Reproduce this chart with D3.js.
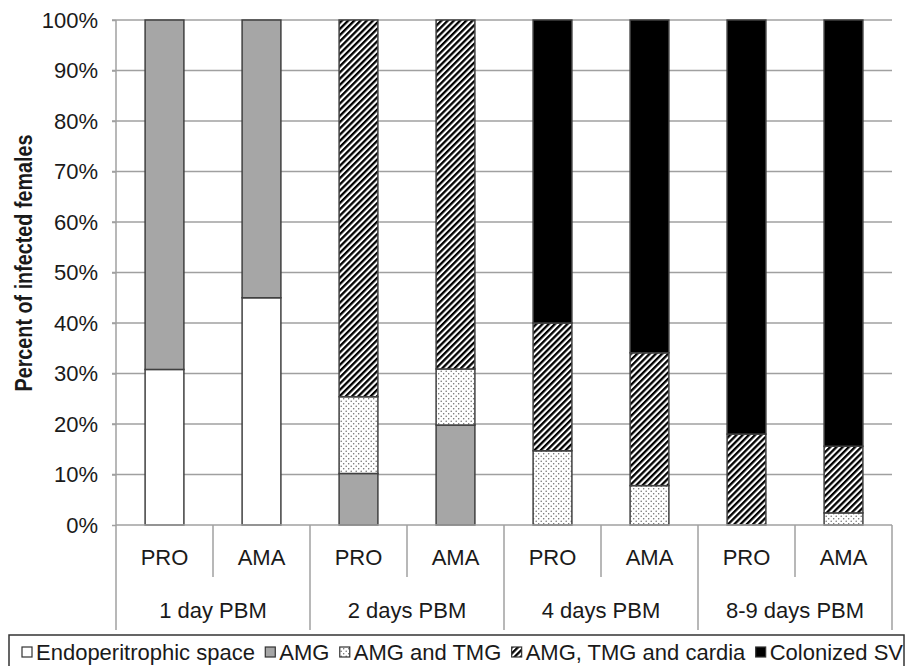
<!DOCTYPE html>
<html><head><meta charset="utf-8">
<script src="https://cdn.jsdelivr.net/npm/d3@7"></script>
<style>html,body{margin:0;padding:0;background:#fff;}svg{display:block;}</style>
</head><body>
<svg id="chart" width="907" height="666"></svg>
<script>
const groups = ["1 day PBM", "2 days PBM", "4 days PBM", "8-9 days PBM"];
const subgroups = ["PRO", "AMA"];
const seriesNames = ["Endoperitrophic space", "AMG", "AMG and TMG", "AMG, TMG and cardia", "Colonized SV"];
// values in percent, one per bar (group x subgroup order)
const endoperitrophic = [30.8, 45.0, 0, 0, 0, 0, 0, 0];
const amg             = [69.2, 55.0, 10.2, 19.8, 0, 0, 0, 0];
const amgTmg          = [0, 0, 15.2, 11.1, 14.7, 7.8, 0, 2.4];
const amgTmgCardia    = [0, 0, 74.6, 69.1, 25.3, 26.3, 18.0, 13.2];
const colonizedSV     = [0, 0, 0, 0, 60.0, 65.9, 82.0, 84.4];
const yTicks = [0, 10, 20, 30, 40, 50, 60, 70, 80, 90, 100];

(function () {
const seriesValues = [endoperitrophic, amg, amgTmg, amgTmgCardia, colonizedSV];
const bars = [];
groups.forEach((g, gi) => subgroups.forEach((s, si) => {
  const idx = gi * subgroups.length + si;
  const row = { id: idx, group: g, sub: s };
  seriesNames.forEach((n, k) => row[n] = seriesValues[k][idx]);
  bars.push(row);
}));

const svg = d3.select("#chart");
const FONT = "'Liberation Sans', Arial, sans-serif";
const FS = 22;
const mLeft = 116, mRight = 892, mTop = 20, mBottom = 525;

const defs = svg.append("defs");
const dots = defs.append("pattern").attr("id", "dots").attr("patternUnits", "userSpaceOnUse")
  .attr("width", 5).attr("height", 5);
dots.append("rect").attr("width", 5).attr("height", 5).attr("fill", "#fff");
dots.append("circle").attr("cx", 1.2).attr("cy", 1.2).attr("r", 0.75).attr("fill", "#6a6a6a");
dots.append("circle").attr("cx", 3.7).attr("cy", 3.7).attr("r", 0.75).attr("fill", "#6a6a6a");
const hatch = defs.append("pattern").attr("id", "hatch").attr("patternUnits", "userSpaceOnUse")
  .attr("width", 4.4).attr("height", 4.4).attr("patternTransform", "rotate(45)");
hatch.append("rect").attr("width", 4.4).attr("height", 4.4).attr("fill", "#fff");
hatch.append("rect").attr("width", 2.3).attr("height", 4.4).attr("fill", "#000");

const fills = {
  "Endoperitrophic space": "#ffffff",
  "AMG": "#a6a6a6",
  "AMG and TMG": "url(#dots)",
  "AMG, TMG and cardia": "url(#hatch)",
  "Colonized SV": "#000000"
};

const x = d3.scaleBand().domain(bars.map(d => d.id)).range([mLeft, mRight])
  .paddingInner(0.6).paddingOuter(0.3);
const step = x.step();
const y = d3.scaleLinear().domain([0, 100]).range([mBottom, mTop]);

// gridlines
svg.append("g").selectAll("line").data(yTicks.filter(t => t > 0)).join("line")
  .attr("x1", mLeft - 4).attr("x2", mRight).attr("y1", d => y(d)).attr("y2", d => y(d))
  .attr("stroke", "#a0a0a0").attr("stroke-width", 1.5);

// y axis
const yAxis = d3.axisLeft(y).tickValues(yTicks).tickFormat(d => d + "%").tickSize(4).tickPadding(14);
const yg = svg.append("g").attr("transform", `translate(${mLeft},0)`).call(yAxis);
yg.select(".domain").remove();
yg.selectAll(".tick line").attr("stroke", "#a0a0a0").attr("stroke-width", 1.5);
yg.selectAll(".tick text").attr("font-family", FONT).attr("font-size", FS).attr("fill", "#1a1a1a");

// bars
const stack = d3.stack().keys(seriesNames);
const layers = stack(bars);
svg.append("g").selectAll("g").data(layers).join("g")
  .attr("fill", d => fills[d.key])
  .selectAll("rect").data(d => d.filter(s => s[1] - s[0] > 0)).join("rect")
  .attr("x", d => x(d.data.id)).attr("width", x.bandwidth())
  .attr("y", d => y(d[1])).attr("height", d => y(d[0]) - y(d[1]))
  .attr("stroke", "#404040").attr("stroke-width", 1.5);

// axis lines & category separators
const axisG = svg.append("g").attr("stroke", "#a0a0a0").attr("stroke-width", 1.5);
axisG.append("line").attr("x1", mLeft).attr("x2", mLeft).attr("y1", mTop).attr("y2", 630);
axisG.append("line").attr("x1", mLeft).attr("x2", mRight).attr("y1", mBottom).attr("y2", mBottom);
const seps = d3.range(1, bars.length + 1);
axisG.selectAll(".sep").data(seps).join("line")
  .attr("x1", i => mLeft + i * step).attr("x2", i => mLeft + i * step)
  .attr("y1", mBottom).attr("y2", i => (i % subgroups.length === 0) ? 630 : 577);

// category labels
svg.append("g").selectAll("text").data(bars).join("text")
  .attr("x", d => x(d.id) + x.bandwidth() / 2).attr("y", 565)
  .attr("text-anchor", "middle").attr("font-family", FONT).attr("font-size", FS).attr("fill", "#1a1a1a")
  .text(d => d.sub);
svg.append("g").selectAll("text").data(groups).join("text")
  .attr("x", (d, i) => mLeft + (i + 0.5) * step * subgroups.length).attr("y", 618)
  .attr("text-anchor", "middle").attr("font-family", FONT).attr("font-size", FS).attr("fill", "#1a1a1a")
  .text(d => d);

// y title
svg.append("text").attr("transform", "translate(32,263) rotate(-90)")
  .attr("text-anchor", "middle").attr("font-family", FONT).attr("font-weight", "bold")
  .attr("font-size", 24).attr("fill", "#1a1a1a")
  .attr("textLength", 257).attr("lengthAdjust", "spacingAndGlyphs")
  .text("Percent of infected females");

// legend
svg.append("rect").attr("x", 9).attr("y", 635).attr("width", 895).attr("height", 40)
  .attr("fill", "none").attr("stroke", "#333").attr("stroke-width", 1.5);
const lg = svg.append("g");
const items = lg.selectAll("g").data(seriesNames).join("g");
items.append("rect").attr("width", 10).attr("height", 10).attr("y", 647)
  .attr("fill", d => fills[d]).attr("stroke", "#333").attr("stroke-width", 1.2);
const texts = items.append("text").attr("y", 660).attr("font-family", FONT).attr("font-size", FS)
  .attr("fill", "#1a1a1a").text(d => d);
const widths = [];
texts.each(function() { widths.push(this.getComputedTextLength()); });
const startX = 22, endX = 903, sw = 10, sgap = 4;
const total = d3.sum(widths) + seriesNames.length * (sw + sgap);
const gap = Math.max(2, (endX - startX - total) / (seriesNames.length - 1));
let cx = startX;
items.each(function(d, i) {
  const g = d3.select(this);
  g.select("rect").attr("x", cx);
  g.select("text").attr("x", cx + sw + sgap);
  cx += sw + sgap + widths[i] + gap;
});
})();
</script>
</body></html>
